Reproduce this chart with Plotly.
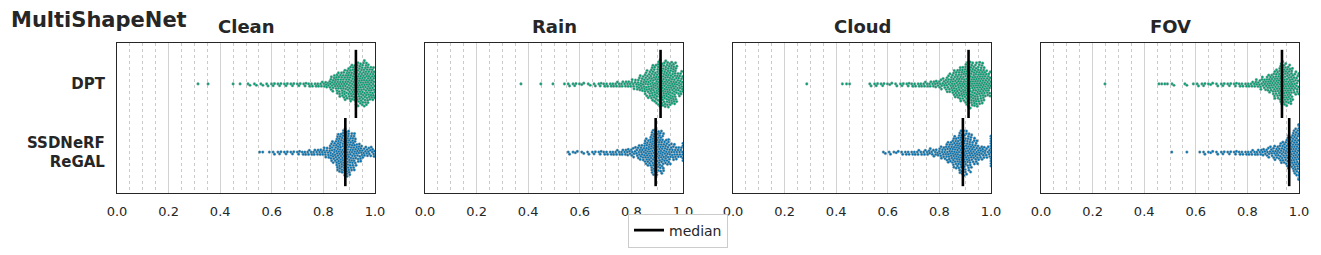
import numpy as np
import plotly.graph_objects as go

# ---------------- data ----------------
CONDITIONS = ["Clean", "Rain", "Cloud", "FOV"]
METHODS = ["DPT", "SSDNeRF<br>ReGAL"]
X_TICKS = [0.0, 0.2, 0.4, 0.6, 0.8, 1.0]
X_TICK_LABELS = ["0.0", "0.2", "0.4", "0.6", "0.8", "1.0"]

# histogram bins (left edges), width 0.025
BIN_LEFT = [0.500, 0.525, 0.550, 0.575, 0.600, 0.625, 0.650, 0.675, 0.700, 0.725,
            0.750, 0.775, 0.800, 0.825, 0.850, 0.875, 0.900, 0.925, 0.950, 0.975]
BIN_WIDTH = 0.025

# number of samples per bin
DPT_CLEAN = [2, 2, 2, 3, 3, 3, 3, 3, 3, 4, 4, 5, 8, 17, 26, 33, 40, 47, 49, 38]
SSD_CLEAN = [0, 0, 0, 1, 3, 3, 3, 3, 4, 5, 6, 7, 11, 23, 44, 53, 42, 21, 11, 10]
DPT_RAIN = [0, 1, 3, 3, 2, 2, 3, 4, 4, 5, 6, 7, 10, 17, 28, 40, 49, 51, 47, 27]
SSD_RAIN = [0, 0, 3, 2, 2, 3, 3, 4, 4, 5, 6, 8, 10, 17, 30, 51, 46, 28, 17, 12]
DPT_CLOUD = [0, 3, 3, 3, 2, 3, 3, 4, 4, 5, 6, 8, 11, 19, 30, 38, 49, 49, 46, 28]
SSD_CLOUD = [0, 0, 0, 2, 3, 2, 4, 4, 5, 5, 7, 8, 13, 23, 36, 49, 42, 27, 15, 11]
DPT_FOV = [2, 0, 2, 1, 3, 3, 2, 3, 3, 3, 4, 4, 5, 9, 13, 21, 32, 49, 44, 23]
SSD_FOV = [0, 0, 1, 0, 1, 3, 2, 3, 3, 3, 4, 4, 5, 6, 8, 11, 15, 23, 34, 52]

# isolated low samples
DPT_CLEAN_LOW = [0.314, 0.353, 0.450, 0.477]
SSD_CLEAN_LOW = [0.553, 0.565]
DPT_RAIN_LOW = [0.372, 0.449, 0.496]
SSD_RAIN_LOW = []
DPT_CLOUD_LOW = [0.286, 0.424, 0.440, 0.452]
SSD_CLOUD_LOW = []
DPT_FOV_LOW = [0.248, 0.457, 0.468, 0.480, 0.490]
SSD_FOV_LOW = [0.507]

# samples exactly equal to 1.0
DPT_ONES = [0, 0, 0, 0]
SSD_ONES = [0, 4, 10, 18]

MEDIAN_DPT = [0.926, 0.913, 0.913, 0.934]
MEDIAN_SSD = [0.885, 0.894, 0.891, 0.962]

DPT_COUNTS = [DPT_CLEAN, DPT_RAIN, DPT_CLOUD, DPT_FOV]
SSD_COUNTS = [SSD_CLEAN, SSD_RAIN, SSD_CLOUD, SSD_FOV]
DPT_LOW = [DPT_CLEAN_LOW, DPT_RAIN_LOW, DPT_CLOUD_LOW, DPT_FOV_LOW]
SSD_LOW = [SSD_CLEAN_LOW, SSD_RAIN_LOW, SSD_CLOUD_LOW, SSD_FOV_LOW]

# ---------------- layout constants ----------------
W, H = 1321, 255
PANEL_X0 = [117, 425, 733, 1041]
PANEL_W = 258
PLOT_TOP, PLOT_BOTTOM = 43, 193
Y_RANGE = [1.6, -0.6]
PX_X = PANEL_W / 1.0
PX_Y = (PLOT_BOTTOM - PLOT_TOP) / (Y_RANGE[0] - Y_RANGE[1])
DOT_D = 2.4           # px spacing between swarm dots
HALF_WIDTH = 0.4      # category units

COLORS = ["#029e73", "#0173b2"]
TXT = "#262626"
PHI = 0.6180339887


def expand(counts, low, ones):
    vals = list(low)
    for lo, n in zip(BIN_LEFT, counts):
        for i in range(n):
            u = (i + ((i + 1) * PHI) % 1.0) / n
            vals.append(lo + BIN_WIDTH * u)
    vals += [1.0] * ones
    return np.array(vals)


def swarm(values, d=DOT_D, max_half=HALF_WIDTH * PX_Y):
    order = np.argsort(values, kind="stable")
    v = values[order] * PX_X
    pv, po = [], []
    out = np.zeros(len(v))
    for k, vi in enumerate(v):
        j = len(pv) - 1
        nv, no = [], []
        while j >= 0 and vi - pv[j] < d:
            nv.append(pv[j]); no.append(po[j]); j -= 1
        if not nv:
            o = 0.0
        else:
            nv = np.array(nv); no = np.array(no)
            dv = vi - nv
            dx = np.sqrt(np.maximum(d * d - dv * dv, 0.0)) * 1.02
            c = np.concatenate([[0.0], no + dx, no - dx])
            c = c[np.argsort(np.abs(c), kind="stable")]
            dist2 = (c[:, None] - no[None, :]) ** 2 + dv[None, :] ** 2
            ok = np.all(dist2 >= d * d * 0.999, axis=1)
            o = c[np.argmax(ok)] if ok.any() else c[0]
        pv.append(vi); po.append(o)
        out[order[k]] = np.clip(o, -max_half, max_half)
    return out / PX_Y


fig = go.Figure()
for p in range(4):
    xa = "x" if p == 0 else f"x{p + 1}"
    ya = "y" if p == 0 else f"y{p + 1}"
    series = [expand(DPT_COUNTS[p], DPT_LOW[p], DPT_ONES[p]),
              expand(SSD_COUNTS[p], SSD_LOW[p], SSD_ONES[p])]
    for cat, vals in enumerate(series):
        off = swarm(vals)
        fig.add_trace(go.Scatter(
            x=vals, y=cat + off, mode="markers", xaxis=xa, yaxis=ya,
            marker=dict(size=2.7, color=COLORS[cat],
                        line=dict(width=0.4, color="#a8a8a8")),
            showlegend=False, hoverinfo="skip"))
    for cat, med in enumerate([MEDIAN_DPT[p], MEDIAN_SSD[p]]):
        fig.add_trace(go.Scatter(
            x=[med, med], y=[cat - 0.5, cat + 0.5], mode="lines",
            xaxis=xa, yaxis=ya, line=dict(color="black", width=2.6),
            name="median", showlegend=(p == 0 and cat == 0), hoverinfo="skip"))

layout = dict(
    width=W, height=H, plot_bgcolor="white", paper_bgcolor="white",
    margin=dict(l=0, r=0, t=0, b=0, autoexpand=False),
    font=dict(family="DejaVu Sans", color=TXT, size=13),
    showlegend=True,
    legend=dict(x=678 / W, y=1 - 230.5 / H, xanchor="center", yanchor="middle",
                bordercolor="#cccccc", borderwidth=1, bgcolor="white",
                font=dict(size=14, color=TXT)),
)
annotations = [dict(text="<b>MultiShapeNet</b>", x=9 / W, y=1 - 20 / H,
                    xref="paper", yref="paper", xanchor="left", yanchor="middle",
                    showarrow=False, font=dict(size=21, color=TXT))]
for p in range(4):
    sfx = "" if p == 0 else str(p + 1)
    x0 = PANEL_X0[p] / W
    x1 = (PANEL_X0[p] + PANEL_W) / W
    layout["xaxis" + sfx] = dict(
        domain=[x0, x1], range=[0, 1], anchor="y" + sfx,
        tickvals=X_TICKS, ticktext=X_TICK_LABELS, ticks="",
        ticklabelstandoff=6,
        showgrid=True, gridcolor="#d2d2d2", gridwidth=1.3,
        minor=dict(dtick=0.05, tick0=0, showgrid=True, gridcolor="#cacaca",
                   griddash="dot", gridwidth=1),
        showline=True, mirror=True, linecolor=TXT, linewidth=1.25,
        zeroline=False, tickfont=dict(size=13, color=TXT))
    layout["yaxis" + sfx] = dict(
        domain=[1 - PLOT_BOTTOM / H, 1 - PLOT_TOP / H], range=Y_RANGE,
        anchor="x" + sfx, tickvals=[0, 1], ticktext=METHODS,
        showticklabels=(p == 0), ticks="", ticklabelstandoff=8,
        showgrid=False, zeroline=False,
        showline=True, mirror=True, linecolor=TXT, linewidth=1.25,
        tickfont=dict(size=15, color=TXT, weight="bold"))
    annotations.append(dict(text=f"<b>{CONDITIONS[p]}</b>", x=(x0 + x1) / 2,
                            y=1 - 27 / H, xref="paper", yref="paper",
                            xanchor="center", yanchor="middle", showarrow=False,
                            font=dict(size=18, color=TXT)))
layout["annotations"] = annotations
fig.update_layout(**layout)
fig.write_html("out.html", config={"displayModeBar": False},
               post_script="document.body.style.margin='0px';"
                           "document.body.style.overflow='hidden';")
